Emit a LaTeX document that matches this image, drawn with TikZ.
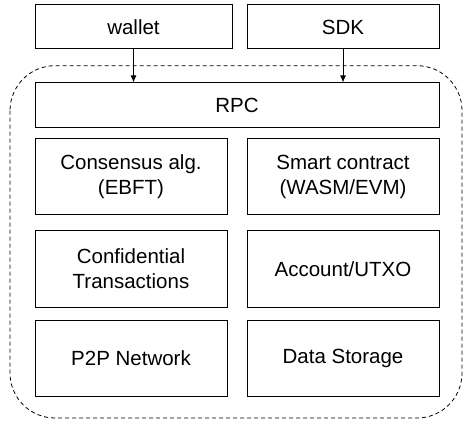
\documentclass[tikz,border=0pt]{standalone}
\usepackage{fontspec}
\setmainfont{Liberation Sans}
\usetikzlibrary{arrows.meta}
\tikzset{blk/.style={draw,line width=1pt,inner sep=0pt,align=center,
    minimum width=192pt,minimum height=76pt,
    font=\fontsize{20.5}{25}\selectfont}}
\begin{document}
\begin{tikzpicture}[x=1pt,y=-1pt]
    % frame
    \useasboundingbox (0,0) rectangle (470,427);
    % set coordinates
    \coordinate (w) at (133.5,27);
    \coordinate (s) at (343,27);
    \coordinate (r) at (237,105.5);
    \coordinate (L) at (131,0);
    \coordinate (R) at (343,0);
    % outer dashed frame
    \draw [line width=0.8pt,dash pattern=on 4pt off 3pt,rounded corners=45pt]
        (10,65.7) rectangle (462,418);
    % draw blocks
    \node [blk,minimum width=197pt,minimum height=44pt] (wallet) at (w) {wallet};
    \node [blk,minimum height=44pt] (sdk) at (s) {SDK};
    \node [blk,minimum width=404pt,minimum height=45pt] (rpc) at (r) {RPC};
    \node [blk] (cons) at (L |- 0,177) {Consensus alg.\\(EBFT)};
    \node [blk] (smart) at (R |- 0,177) {Smart contract\\(WASM/EVM)};
    \node [blk] (conf) at (L |- 0,269) {Confidential\\Transactions};
    \node [blk] (acct) at (R |- 0,269) {Account/UTXO};
    \node [blk] (p2p) at (L |- 0,358.5) {P2P Network};
    \node [blk] (data) at (R |- 0,358.5) {Data Storage};
    % add arrows
    \draw [line width=1pt,-{Latex[length=7pt,width=6pt]}] (wallet.south) -- (wallet.south |- rpc.north);
    \draw [line width=1pt,-{Latex[length=7pt,width=6pt]}] (sdk.south) -- (sdk.south |- rpc.north);
\end{tikzpicture}
\end{document}
